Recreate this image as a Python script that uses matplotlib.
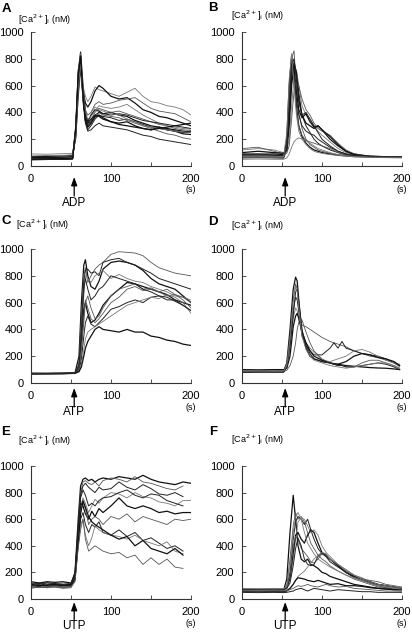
import numpy as np
import matplotlib
matplotlib.use("Agg")
import matplotlib.pyplot as plt

plt.rcParams['font.family'] = ['Liberation Sans', 'DejaVu Sans']
nan = np.nan

# ---------------- data ----------------
PANEL_LETTERS = ["A", "B", "C", "D", "E", "F"]
AGONISTS = ["ADP", "ADP", "ATP", "ATP", "UTP", "UTP"]
Y_TICKS = [0, 200, 400, 600, 800, 1000]
X_TICKS = [0, 50, 100, 150, 200]
X_TICK_LABELS = ["0", "", "100", "", "200"]
AGONIST_TIME = 54

TA = [0, 20, 40, 52, 56, 59, 62, 65, 68, 71, 75, 80, 85, 90, 100, 110, 120, 130, 140, 150, 160, 170, 180, 190, 200]
A_TRACES = [
    [50, 52, 50, 55, 300, 700, 850, 600, 400, 330, 380, 420, 410, 390, 400, 380, 370, 340, 320, 300, 290, 280, 270, 260, 255],
    [60, 58, 62, 60, 250, 650, 800, 550, 380, 300, 340, 400, 430, 420, 400, 410, 390, 370, 350, 330, 310, 300, 280, 270, 265],
    [45, 48, 50, 52, 280, 680, 820, 520, 330, 270, 300, 350, 380, 370, 360, 340, 350, 330, 310, 290, 280, 270, 260, 250, 250],
    [90, 88, 92, 95, 200, 500, 700, 600, 520, 480, 520, 590, 570, 560, 540, 520, 550, 580, 520, 480, 470, 450, 440, 420, 380],
    [70, 72, 75, 80, 220, 550, 750, 560, 470, 440, 480, 560, 600, 580, 520, 500, 510, 470, 420, 400, 370, 360, 340, 320, 300],
    [55, 55, 58, 60, 260, 620, 780, 500, 350, 290, 310, 360, 400, 380, 370, 360, 340, 320, 300, 280, 260, 240, 230, 210, 200],
    [50, 50, 52, 55, 240, 600, 760, 480, 320, 260, 270, 300, 320, 300, 290, 280, 270, 250, 230, 220, 200, 190, 180, 170, 160],
    [60, 62, 60, 65, 290, 700, 840, 560, 390, 350, 370, 410, 450, 440, 430, 440, 460, 420, 380, 350, 320, 300, 290, 280, 275],
    [65, 63, 66, 70, 270, 640, 800, 520, 360, 320, 350, 380, 370, 350, 330, 320, 330, 300, 280, 270, 290, 270, 260, 240, 235],
    [55, 57, 55, 58, 300, 720, 830, 580, 420, 380, 400, 460, 480, 460, 470, 490, 500, 510, 470, 430, 410, 400, 390, 360, 330],
    [48, 50, 50, 53, 260, 660, 810, 540, 370, 310, 330, 380, 400, 390, 380, 390, 380, 360, 340, 330, 320, 310, 300, 290, 280],
    [75, 78, 80, 82, 230, 580, 760, 500, 400, 380, 400, 440, 420, 410, 390, 380, 350, 330, 300, 290, 280, 270, 260, 255, 250],
    [52, 54, 55, 57, 280, 680, 820, 520, 340, 290, 320, 370, 380, 360, 330, 310, 300, 290, 280, 270, 280, 290, 300, 310, 320],
]

TB = [0, 20, 40, 52, 56, 59, 62, 65, 68, 71, 75, 80, 85, 90, 95, 100, 110, 120, 130, 140, 160, 180, 200]
B_TRACES = [
    [70, 72, 70, 68, 200, 600, 820, 700, 450, 300, 220, 170, 140, 120, 110, 100, 90, 80, 75, 70, 68, 65, 65],
    [80, 78, 82, 80, 150, 500, 800, 860, 600, 400, 280, 200, 160, 140, 120, 110, 95, 85, 80, 75, 70, 68, 68],
    [60, 62, 60, 58, 120, 350, 650, 780, 700, 550, 380, 300, 250, 200, 170, 150, 120, 100, 85, 75, 70, 65, 65],
    [120, 130, 120, 100, 110, 200, 450, 650, 720, 600, 450, 380, 350, 300, 260, 230, 180, 130, 100, 80, 70, 65, 65],
    [90, 88, 90, 85, 140, 400, 720, 740, 550, 420, 360, 390, 330, 290, 300, 270, 200, 150, 110, 90, 70, 70, 70],
    [130, 140, 110, 90, 95, 150, 350, 550, 650, 600, 500, 420, 380, 320, 280, 260, 230, 170, 120, 90, 75, 70, 70],
    [75, 73, 76, 74, 180, 560, 790, 680, 500, 380, 300, 260, 240, 230, 200, 180, 140, 110, 90, 75, 70, 68, 68],
    [50, 52, 50, 50, 60, 90, 140, 180, 200, 210, 200, 190, 170, 150, 130, 120, 100, 85, 75, 70, 65, 62, 60],
    [100, 110, 100, 95, 120, 300, 600, 750, 700, 500, 380, 320, 300, 280, 300, 270, 220, 160, 110, 85, 70, 65, 65],
    [65, 68, 66, 64, 160, 520, 770, 640, 420, 300, 230, 190, 180, 170, 160, 150, 130, 100, 80, 72, 68, 66, 66],
    [85, 90, 80, 78, 130, 450, 760, 800, 650, 480, 380, 400, 350, 300, 250, 200, 150, 110, 90, 80, 75, 70, 70],
    [70, 70, 72, 70, 250, 650, 840, 600, 380, 260, 200, 160, 130, 110, 100, 95, 85, 80, 75, 70, 65, 65, 65],
]

TC = [0, 20, 40, 55, 60, 63, 66, 68, 71, 75, 80, 85, 90, 100, 110, 120, 130, 140, 150, 160, 170, 180, 190, 200]
C_TRACES = [
    [70, 70, 72, 75, 200, 600, 880, 920, 800, 720, 700, 760, 850, 900, 910, 900, 880, 840, 780, 740, 720, 700, 650, 600],
    [65, 68, 70, 72, 150, 500, 800, 860, 750, 800, 850, 880, 900, 960, 980, 975, 970, 950, 900, 860, 840, 820, 810, 800],
    [75, 74, 75, 78, 130, 400, 750, 840, 850, 820, 830, 800, 900, 920, 930, 900, 880, 850, 820, 780, 760, 740, 720, 700],
    [70, 70, 71, 72, 120, 350, 650, 800, 780, 750, 800, 820, 840, 780, 810, 780, 760, 750, 720, 700, 680, 650, 640, 620],
    [68, 69, 70, 72, 110, 300, 550, 600, 520, 450, 470, 520, 580, 650, 700, 750, 740, 720, 700, 680, 660, 620, 600, 580],
    [72, 72, 73, 74, 100, 250, 500, 620, 560, 480, 450, 480, 520, 600, 640, 700, 720, 690, 700, 680, 700, 660, 640, 600],
    [70, 71, 70, 72, 90, 180, 350, 450, 500, 440, 420, 450, 480, 550, 570, 600, 620, 600, 640, 650, 620, 620, 580, 540],
    [66, 67, 68, 70, 85, 140, 250, 330, 380, 400, 420, 440, 460, 500, 540, 580, 600, 620, 640, 630, 660, 640, 600, 520],
    [70, 70, 71, 73, 85, 120, 200, 260, 310, 350, 400, 420, 400, 390, 380, 400, 380, 380, 350, 340, 320, 310, 290, 280],
    [70, 72, 72, 74, 110, 260, 450, 600, 650, 560, 480, 500, 560, 650, 700, 720, 740, 700, 710, 680, 650, 660, 620, 560],
    [68, 70, 70, 72, 130, 380, 700, 780, 700, 620, 650, 700, 720, 800, 780, 760, 740, 700, 680, 650, 640, 610, 580, 540],
]

TD = [0, 20, 40, 52, 56, 60, 64, 67, 69, 72, 75, 80, 85, 90, 100, 110, 115, 120, 125, 130, 140, 150, 160, 170, 180, 190, 197]
D_TRACES = [
    [85, 88, 86, 88, 150, 400, 700, 790, 760, 550, 380, 260, 200, 180, 160, 150, 145, 140, 135, 130, 125, 120, 115, 112, 110, 105, 100],
    [90, 92, 90, 92, 140, 350, 620, 740, 700, 520, 430, 420, 400, 380, 340, 310, 300, 290, 280, 270, 240, 220, 200, 190, 170, 150, 140],
    [80, 82, 80, 82, 130, 300, 550, 640, 620, 480, 350, 280, 240, 210, 210, 260, 300, 260, 310, 260, 240, 220, 210, 200, 180, 150, 130],
    [95, 95, 96, 94, 120, 250, 480, 560, 540, 450, 380, 300, 260, 230, 170, 160, 170, 180, 190, 200, 240, 250, 230, 200, 170, 150, 120],
    [100, 98, 100, 100, 110, 200, 420, 500, 520, 460, 380, 300, 240, 200, 170, 150, 140, 140, 150, 160, 200, 220, 210, 190, 180, 160, 130],
    [85, 86, 85, 85, 95, 130, 200, 300, 400, 480, 470, 380, 300, 240, 180, 150, 140, 130, 130, 120, 120, 150, 170, 170, 150, 130, 110],
    [80, 80, 82, 80, 120, 280, 500, 680, 700, 560, 400, 280, 220, 180, 160, 150, 140, 130, 130, 120, 120, 130, 140, 150, 140, 120, 100],
    [90, 90, 88, 90, 130, 320, 600, 720, 680, 500, 350, 250, 200, 170, 150, 130, 125, 120, 115, 110, 120, 130, 140, 150, 150, 130, 110],
]

TE = [0, 10, 20, 30, 40, 50, 55, 59, 62, 65, 68, 72, 76, 80, 85, 90, 100, 110, 120, 130, 140, 150, 160, 170, 180, 190, 200]
E_TRACES = [
    [110, 120, 100, 115, 105, 110, 200, 600, 850, 900, 910, 890, 900, 880, 900, 910, 900, 920, 910, 900, 930, 900, 880, 870, 860, 880, 870],
    [100, 90, 110, 95, 105, 100, 180, 550, 800, 880, 890, 870, 860, 880, 850, 890, 910, 900, 880, 920, 880, 870, 850, 830, 820, 850, nan],
    [90, 95, 85, 100, 90, 95, 160, 500, 780, 850, 870, 840, 820, 800, 840, 820, 830, 880, 840, 820, 860, 830, 790, 780, 800, 770, nan],
    [120, 110, 125, 110, 120, 115, 170, 480, 700, 760, 720, 650, 700, 750, 720, 760, 800, 790, 760, 800, 770, 760, 730, 720, 700, 740, 740],
    [130, 120, 130, 125, 130, 120, 190, 520, 720, 700, 640, 600, 660, 620, 680, 650, 700, 760, 700, 680, 700, 680, 650, 660, 640, 650, 650],
    [80, 90, 85, 90, 80, 85, 140, 450, 650, 720, 680, 560, 600, 620, 600, 560, 620, 600, 640, 580, 620, 600, 580, 560, 600, 590, 600],
    [100, 105, 95, 100, 105, 100, 150, 420, 600, 650, 560, 500, 560, 540, 580, 500, 480, 520, 470, 500, 440, 460, 420, 380, 400, 360, nan],
    [95, 100, 90, 95, 100, 95, 140, 400, 560, 600, 480, 400, 460, 550, 520, 500, 480, 470, 450, 480, 440, 420, 400, 430, 360, 340, nan],
    [110, 100, 105, 110, 100, 105, 150, 430, 640, 740, 690, 620, 580, 560, 540, 520, 480, 450, 470, 400, 440, 380, 360, 340, 380, 330, nan],
    [90, 85, 95, 90, 85, 90, 130, 380, 520, 600, 450, 360, 380, 400, 380, 360, 340, 350, 310, 330, 260, 310, 260, 300, 240, 230, nan],
    [115, 110, 120, 115, 110, 115, 180, 520, 760, 820, 780, 700, 720, 700, 740, 760, 770, 800, 820, 780, 760, 790, 780, 740, 720, 700, nan],
]

TF = [0, 20, 40, 52, 56, 60, 64, 67, 70, 74, 78, 82, 86, 90, 95, 100, 105, 110, 120, 130, 140, 150, 160, 170, 180, 190, 200]
F_TRACES = [
    [65, 70, 68, 66, 150, 500, 780, 600, 400, 300, 280, 300, 260, 250, 230, 200, 190, 170, 150, 130, 110, 100, 90, 80, 75, 70, 70],
    [70, 72, 70, 70, 100, 300, 550, 650, 600, 620, 580, 500, 420, 380, 330, 300, 280, 250, 210, 180, 150, 130, 110, 90, 80, 70, 70],
    [75, 74, 76, 74, 90, 200, 450, 580, 620, 600, 560, 600, 520, 450, 380, 340, 320, 300, 250, 200, 170, 150, 120, 100, 85, 75, 70],
    [60, 62, 60, 62, 80, 150, 300, 450, 580, 610, 600, 550, 500, 520, 480, 400, 350, 320, 260, 220, 180, 160, 130, 110, 95, 80, 75],
    [68, 70, 70, 68, 85, 160, 350, 480, 500, 450, 420, 480, 520, 500, 420, 350, 330, 300, 250, 200, 170, 150, 130, 110, 100, 90, 80],
    [72, 70, 72, 70, 90, 180, 400, 470, 450, 380, 350, 320, 280, 270, 300, 340, 330, 300, 260, 210, 180, 150, 140, 130, 110, 100, 90],
    [70, 70, 68, 70, 80, 120, 250, 380, 460, 400, 300, 260, 250, 260, 320, 350, 320, 280, 240, 200, 160, 140, 120, 110, 100, 90, 80],
    [65, 66, 66, 65, 70, 80, 110, 140, 170, 190, 210, 240, 270, 300, 330, 350, 340, 300, 260, 220, 180, 150, 130, 110, 100, 90, 85],
    [55, 56, 55, 55, 60, 80, 110, 140, 160, 155, 150, 140, 135, 130, 140, 130, 120, 110, 115, 100, 100, 95, 85, 80, 75, 70, 70],
    [60, 58, 60, 60, 62, 70, 80, 90, 100, 95, 100, 110, 100, 95, 90, 100, 110, 100, 90, 95, 80, 75, 70, 65, 60, 60, 58],
    [50, 48, 50, 48, 50, 55, 60, 70, 75, 80, 70, 60, 70, 80, 75, 70, 65, 60, 70, 65, 60, 55, 55, 50, 50, 50, 50],
    [80, 78, 80, 78, 95, 250, 500, 620, 650, 600, 500, 420, 380, 340, 300, 280, 260, 240, 210, 180, 160, 140, 120, 100, 90, 80, 75],
]

PANEL_TIMES = [TA, TB, TC, TD, TE, TF]
PANEL_TRACES = [A_TRACES, B_TRACES, C_TRACES, D_TRACES, E_TRACES, F_TRACES]

# ---------------- layout (pixels) ----------------
W, H = 412, 640
COL_LEFT = [31, 242]
AX_W = 160
ROW_TOP = [32, 249, 466]
ROW_BOT = [166, 383, 599]
# arrow tip / tail / label centre, pixels below the x axis, per row
ARROW_TIP = [11, 5, 3]
ARROW_TAIL = [30, 24, 22]
AGONIST_Y = [37, 29, 27]
LETTER_POS = [(6, 9), (213, 8), (6, 221), (213, 222), (6, 432), (213, 432)]
YLABEL_POS = [(45, 20), (258, 16), (43, 225), (258, 226), (45, 441), (258, 440)]
LINE_STYLES = [("#111111", 0.9), ("#555555", 0.6), ("#222222", 0.7), ("#777777", 0.6)]

fig = plt.figure(figsize=(W / 100, H / 100), dpi=100)

for i in range(6):
    r, c = divmod(i, 2)
    left = COL_LEFT[c] / W
    bottom = 1 - ROW_BOT[r] / H
    ax_h = ROW_BOT[r] - ROW_TOP[r]
    ax = fig.add_axes([left, bottom, AX_W / W, ax_h / H])
    t = PANEL_TIMES[i]
    for k, tr in enumerate(PANEL_TRACES[i]):
        col, lw = LINE_STYLES[k % len(LINE_STYLES)]
        ax.plot(t, tr, color=col, lw=lw, solid_joinstyle='round')
    ax.set_xlim(0, 200)
    ax.set_ylim(0, 1000)
    for s in ("top", "right"):
        ax.spines[s].set_visible(False)
    for s in ("left", "bottom"):
        ax.spines[s].set_linewidth(0.8)
        ax.spines[s].set_color("#333333")
    ax.set_yticks(Y_TICKS)
    ax.set_xticks(X_TICKS)
    ax.set_xticklabels(X_TICK_LABELS)
    ax.tick_params(axis='both', direction='in', length=3, width=0.6, colors="#333333",
                   labelsize=8, labelcolor="black")
    ax.tick_params(axis='x', pad=6)
    ax.tick_params(axis='y', pad=5.5)
    xt = ax.get_xaxis_transform()
    ax.text(200, -24 / ax_h, "(s)", transform=xt, ha='center', va='center',
            fontsize=6.5, color="black")
    ax.annotate("", xy=(AGONIST_TIME, -ARROW_TIP[r] / ax_h), xytext=(AGONIST_TIME, -ARROW_TAIL[r] / ax_h),
                xycoords=xt, textcoords=xt,
                arrowprops=dict(arrowstyle='-|>,head_length=0.5,head_width=0.18', color='black', lw=0.9,
                                shrinkA=0, shrinkB=0),
                annotation_clip=False)
    ax.text(AGONIST_TIME, -AGONIST_Y[r] / ax_h, AGONISTS[i], transform=xt,
            ha='center', va='center', fontsize=8.5, color="black")
    lx, ly = LETTER_POS[i]
    fig.text(lx / W, 1 - ly / H, PANEL_LETTERS[i], fontsize=9.5, fontweight='bold',
             ha='center', va='center')
    yx, yy = YLABEL_POS[i]
    fig.text(yx / W, 1 - yy / H, r"[Ca$^{2+}$]$_{\rm i}$ (nM)", fontsize=6.5,
             ha='center', va='center', color="black")

fig.savefig("out.png", dpi=100)
